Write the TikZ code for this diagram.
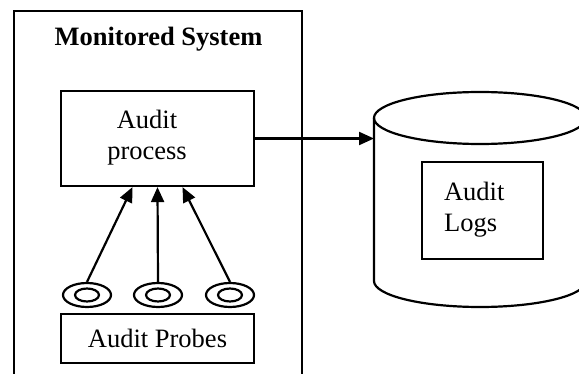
\documentclass[tikz,border=0pt]{standalone}
\usepackage{fontspec}
\setmainfont{Liberation Serif}
\usepackage{tikz}
\usetikzlibrary{shapes,arrows.meta,positioning}

\begin{document}
\begin{tikzpicture}[x=1pt, y=-1pt, line width=2.2pt,
    font=\fontsize{26.5}{31}\selectfont,
    box/.style={draw, rectangle, inner sep=0pt},
    probe/.style={draw, ellipse, inner sep=0pt, minimum width=48pt, minimum height=24pt},
    probein/.style={draw, ellipse, inner sep=0pt, minimum width=24pt, minimum height=13pt},
    flow/.style={-{Triangle[length=15pt, width=13pt]}}]
    \useasboundingbox (0,0) rectangle (579,374);
    \clip (0,0) rectangle (579,374);

    % monitored system
    \node[box, minimum width=288pt, minimum height=379pt] (system) at (158,200.5) {};
    \node[anchor=base, font=\fontsize{26.5}{31}\selectfont\bfseries] (title) at (158.5,46) {Monitored System};

    \node[box, minimum width=193pt, minimum height=95pt] (proc) at (157.5,138.5) {};
    \node[anchor=north, align=center, inner sep=0pt] (proctext) at (147,109) {Audit\\process};

    \node[probe] (probe1) at (87,295) {};
    \node[probe] (probe2) at (158,295) {};
    \node[probe] (probe3) at (230,295) {};
    \node[probein] (probe1in) at (probe1.center) {};
    \node[probein] (probe2in) at (probe2.center) {};
    \node[probein] (probe3in) at (probe3.center) {};

    \node[box, minimum width=193pt, minimum height=49pt] (probes) at (157.5,338.5) {Audit Probes};

    \draw[flow] (probe1.north) -- ([xshift=-25pt]proc.south);
    \draw[flow] (probe2.north) -- (proc.south);
    \draw[flow] (probe3.north) -- ([xshift=25pt]proc.south);

    % log store
    \draw (480,118) ellipse [x radius=106, y radius=26];
    \draw (374,118) -- (374,281) arc [start angle=180, end angle=0, x radius=106, y radius=26] -- (586,118);
    \coordinate (store) at (374,138.5);

    \node[box, minimum width=121pt, minimum height=97pt] (logs) at (482.5,210.5) {};
    \node[anchor=north west, align=left, inner sep=0pt] (logstext) at (443,181) {Audit\\Logs};

    \draw[flow] (proc.east) -- (store);
\end{tikzpicture}
\end{document}
